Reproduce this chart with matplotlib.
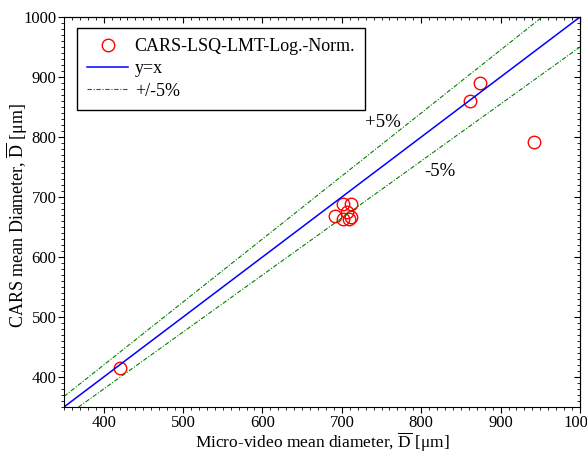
import numpy as np
import matplotlib
matplotlib.use("Agg")
from matplotlib import pyplot as plt

plt.rcParams['font.family'] = ['Liberation Serif', 'DejaVu Serif']
plt.rcParams['mathtext.fontset'] = 'custom'
plt.rcParams['mathtext.rm'] = 'Liberation Serif'

# valores
video = [420, 701, 712, 691, 701, 709, 706, 711, 874, 861, 942]
cars = [415, 689, 689, 669, 664, 664, 675, 667, 890, 860, 792]
linha = [350, 1000]

fig = plt.figure(figsize=(5.87, 4.54), dpi=100)
ax = fig.add_axes([0.109, 0.1035, 0.879, 0.859])

ax.plot(video, cars, 'o', mfc='none', mec='red', ms=9, mew=1,
        label='CARS-LSQ-LMT-Log.-Norm.')
ax.plot(linha, linha, color='blue', lw=1.1, label='y=x')
ax.plot(linha, [v * 1.05 for v in linha], color='green', ls=(0, (4, 1.5, 1, 1.5)), lw=0.8,
        label='+/-5%')
ax.plot(linha, [v * 0.95 for v in linha], color='green', ls=(0, (4, 1.5, 1, 1.5)), lw=0.8)

ax.text(752, 825, '+5%', fontsize=13.5, ha='center', va='center')
ax.text(823, 742, '-5%', fontsize=13.5, ha='center', va='center')

ax.set_xlim(350, 1000)
ax.set_ylim(350, 1000)
ax.set_xticks(range(400, 1001, 100))
ax.set_yticks(range(400, 1001, 100))
ax.set_xticks(range(350, 1001, 10), minor=True)
ax.set_yticks(range(350, 1001, 10), minor=True)
ax.tick_params(which='major', direction='out', length=4, labelsize=12, pad=1.5)
ax.tick_params(which='minor', direction='out', length=2.5)

# eixos de cima e da direita com ticks para dentro
topo = ax.secondary_xaxis('top')
topo.set_xticks(range(400, 1001, 100))
topo.set_xticks(range(350, 1001, 10), minor=True)
topo.tick_params(which='major', direction='in', length=4, labeltop=False)
topo.tick_params(which='minor', direction='in', length=2.5)
direita = ax.secondary_yaxis('right')
direita.set_yticks(range(400, 1001, 100))
direita.set_yticks(range(350, 1001, 10), minor=True)
direita.tick_params(which='major', direction='in', length=4, labelright=False)
direita.tick_params(which='minor', direction='in', length=2.5)

ax.set_xlabel(r'Micro-video mean diameter, $\overline{\mathrm{D}}$ [μm]', fontsize=12.5)
ax.set_ylabel(r'CARS mean Diameter, $\overline{\mathrm{D}}$ [μm]', fontsize=13)
ax.xaxis.set_label_coords(0.5, -0.06)
ax.yaxis.set_label_coords(-0.066, 0.49)

leg = ax.legend(loc='upper left', bbox_to_anchor=(0.025, 0.972), borderaxespad=0,
                fontsize=13, fancybox=False, framealpha=1, edgecolor='black',
                handlelength=2.3, handletextpad=0.35, labelspacing=0.3, borderpad=0.55)
leg.get_frame().set_linewidth(1)

fig.savefig('out.png', dpi=100)
